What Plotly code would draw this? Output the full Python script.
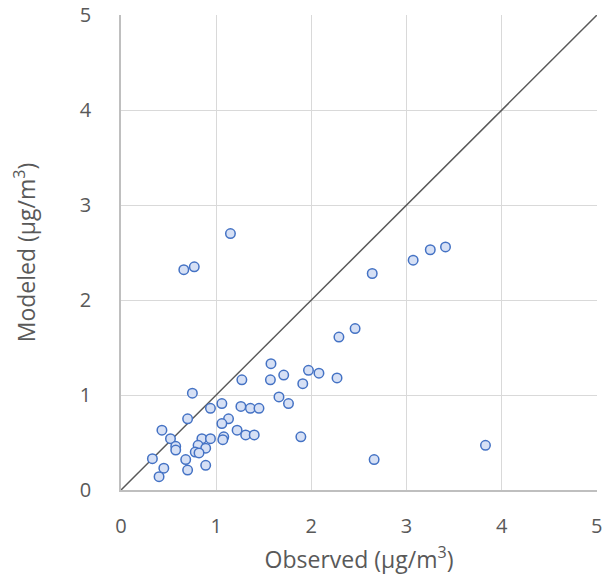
import plotly.graph_objects as go

observed = [1.576, 1.27, 1.57, 1.71, 1.97, 1.91, 0.75, 1.66, 1.76, 1.06, 0.94, 1.26, 1.36, 1.45,
            0.70, 1.13, 1.06, 0.43, 1.22, 0.52, 0.85, 0.94, 1.08, 1.07, 1.31, 1.40, 1.89,
            0.575, 0.575, 0.81, 0.89, 0.78, 0.82, 0.33, 0.68, 0.45, 0.89, 0.70, 0.40,
            2.64, 3.07, 3.25, 3.41, 2.46, 2.29, 2.08, 2.27, 2.66, 3.83, 0.66, 0.77, 1.15]
modeled = [1.33, 1.16, 1.16, 1.21, 1.26, 1.12, 1.02, 0.98, 0.91, 0.91, 0.86, 0.88, 0.86, 0.86,
           0.75, 0.75, 0.70, 0.63, 0.63, 0.54, 0.54, 0.54, 0.56, 0.53, 0.58, 0.58, 0.56,
           0.46, 0.42, 0.47, 0.44, 0.40, 0.39, 0.33, 0.32, 0.23, 0.26, 0.21, 0.14,
           2.28, 2.42, 2.53, 2.56, 1.70, 1.61, 1.23, 1.18, 0.32, 0.47, 2.32, 2.35, 2.70]
line_x = [0, 5]
line_y = [0, 5]
ticks = [0, 1, 2, 3, 4, 5]

fig = go.Figure()
fig.add_trace(go.Scatter(x=line_x, y=line_y, mode="lines",
                         line=dict(color="#595959", width=1.5), showlegend=False, hoverinfo="skip"))
fig.add_trace(go.Scatter(x=observed, y=modeled, mode="markers",
                         marker=dict(symbol="circle", size=9.5, color="#d6e0f5",
                                     line=dict(color="#4472c4", width=1.5)),
                         showlegend=False))

font_color = "#595959"
fig.update_layout(
    width=613, height=581,
    margin=dict(l=121, r=16, t=15, b=91),
    paper_bgcolor="white", plot_bgcolor="white",
    font=dict(family="Open Sans, Liberation Sans, sans-serif", color=font_color, size=20),
    xaxis=dict(range=[0, 5.002], tickvals=ticks, ticktext=[str(t) for t in ticks],
               showgrid=True, gridcolor="#d9d9d9", gridwidth=1,
               showline=True, linecolor="#bfbfbf", linewidth=1.5,
               zeroline=False, ticks="outside", ticklen=17, tickcolor="rgba(0,0,0,0)",
               automargin=False, ticklabeloverflow="allow",
               tickfont=dict(size=20, color=font_color),
               title=dict(text="Observed (µg/m<sup>3</sup>)", font=dict(size=23, color=font_color), standoff=14)),
    yaxis=dict(range=[0, 5.002], tickvals=ticks, ticktext=[str(t) for t in ticks],
               showgrid=True, gridcolor="#d9d9d9", gridwidth=1,
               showline=True, linecolor="#bfbfbf", linewidth=1.5,
               zeroline=False, ticks="outside", ticklen=24, tickcolor="rgba(0,0,0,0)",
               automargin=False, ticklabeloverflow="allow",
               tickfont=dict(size=20, color=font_color),
               title=dict(text="Modeled (µg/m<sup>3</sup>)", font=dict(size=23, color=font_color), standoff=38)),
)
fig.write_html("out.html", config={"displayModeBar": False},
               post_script="document.body.style.margin='0';")
